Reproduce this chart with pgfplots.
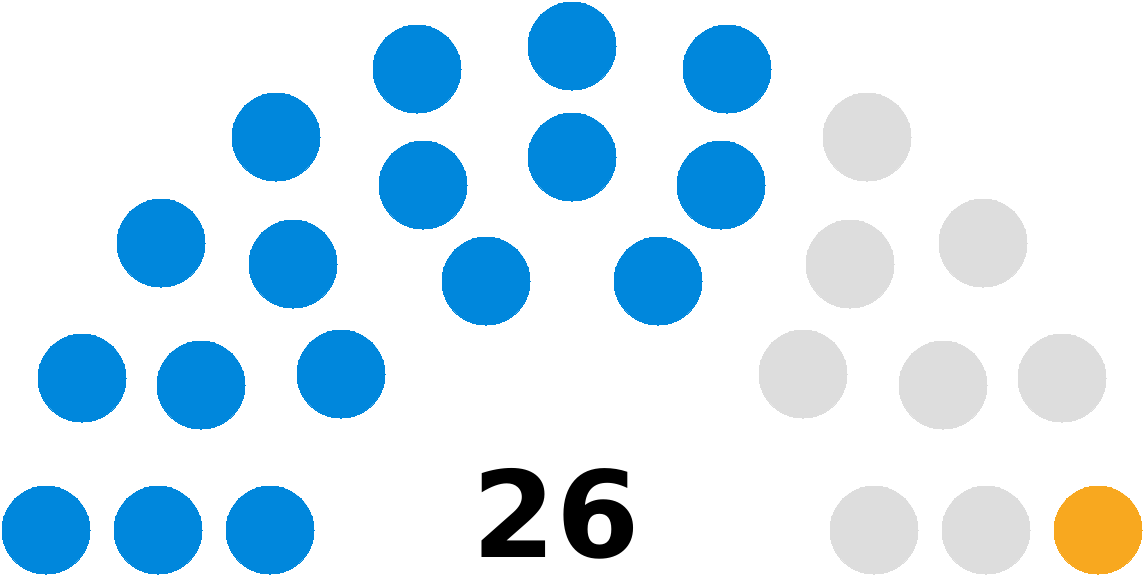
\documentclass[border=0pt]{standalone}
\usepackage{fontspec}
\setmainfont{DejaVu Sans}
\usepackage{pgfplots}
\pgfplotsset{compat=1.18}
\definecolor{blueseat}{HTML}{0087DC}
\definecolor{greyseat}{HTML}{DDDDDD}
\definecolor{orangeseat}{HTML}{F8A81F}
\begin{document}
\begin{tikzpicture}
\begin{axis}[
    scale only axis,
    width=571.5pt, height=287.5pt,
    xmin=0, xmax=1143, ymin=-575, ymax=0,
    hide axis, clip=false
]
% seats, pixel positions (y downward, negated)
\addplot[only marks, mark=*, mark size=22pt, color=blueseat, mark options={line width=0pt}] coordinates {
    (46,-530) (158,-530) (270,-530)
    (82,-378) (201,-385) (341,-374)
    (161,-243) (293,-264)
    (276,-137)
    (417,-69) (572,-46) (727,-69)
    (423,-185) (572,-157) (721,-185)
    (486,-281) (658,-281)
};
\addplot[only marks, mark=*, mark size=22pt, color=greyseat, mark options={line width=0pt}] coordinates {
    (867,-137)
    (850,-264) (983,-243)
    (803,-374) (943,-385) (1062,-378)
    (874,-530) (986,-530)
};
\addplot[only marks, mark=*, mark size=22pt, color=orangeseat, mark options={line width=0pt}] coordinates {
    (1098,-530)
};
\node[anchor=center, inner sep=0pt, font=\fontsize{60}{60}\selectfont\bfseries] at (axis cs:556,-514) {26};
\end{axis}
\pgfresetboundingbox
\path[use as bounding box] (0,0) rectangle (571.5pt,287.5pt);
\end{tikzpicture}
\end{document}
